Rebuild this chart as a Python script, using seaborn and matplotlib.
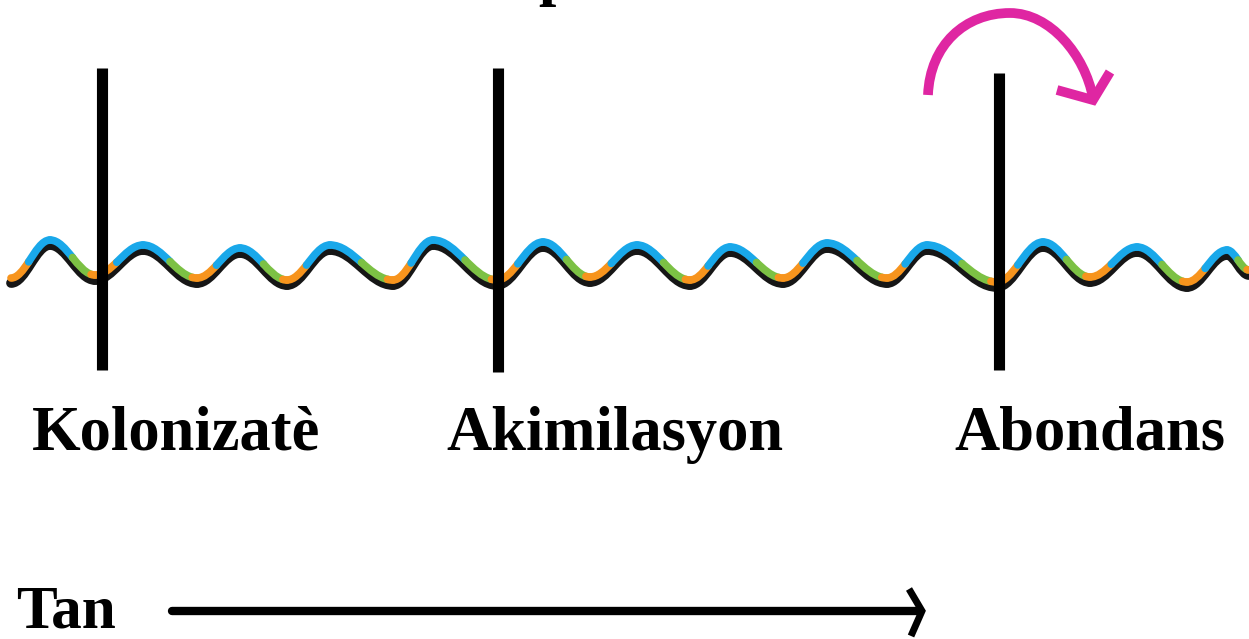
import numpy as np
import pandas as pd
import seaborn as sns
import matplotlib.pyplot as plt
from matplotlib.path import Path
from matplotlib.patches import PathPatch
from matplotlib.bezier import split_de_casteljau

# wave extrema (pixel-style coordinates, y grows downward)
wave_x = [11, 50, 95, 143, 197, 240, 287, 330, 393, 433, 497, 543, 590, 637,
          690, 730, 783, 827, 887, 927, 997, 1043, 1090, 1137, 1187, 1227, 1249]
wave_y = [283, 245, 280, 250, 283, 253, 285, 250, 285, 245, 285, 247, 282, 250,
          285, 252, 283, 248, 283, 250, 287, 247, 282, 252, 287, 255, 275]

# stage markers
stage_labels = ['Kolonizatè', 'Akimilasyon', 'Abondans']
stage_x = [102, 498, 999]
stage_top = [68, 68, 73]
stage_bottom = [370, 372, 370]
label_x = [176, 615, 1090]

# pink turning arrow: two cubic pieces (start, ctrl, ctrl, end)
arc_x = [928, 930, 965, 1010, 1050, 1085, 1093]
arc_y = [95, 45, 13, 13, 13, 55, 98]
head_x = [1057, 1093, 1110]
head_y = [90, 100, 72]

# time arrow
time_x = [172, 920]
time_y = [611, 611]
chev_x = [909, 922, 911]
chev_y = [589, 611, 636]

BLUE = '#19A8EA'
GREEN = '#7CC144'
ORANGE = '#F7941D'
BLACK = '#161616'
PINK = '#DF26A2'

sns.set_theme(style='white')
plt.rcParams['font.family'] = ['Liberation Serif', 'DejaVu Serif']

fig = plt.figure(figsize=(12.49, 6.39), dpi=100)
ax = fig.add_axes([0, 0, 1, 1])
ax.set_xlim(0, 1249)
ax.set_ylim(639, 0)
ax.axis('off')

CURVE = [Path.MOVETO, Path.CURVE4, Path.CURVE4, Path.CURVE4]


def ctrl_pts(p0, p1, dy=0):
    d = (p1[0] - p0[0]) * 0.37
    return np.array([[p0[0], p0[1] + dy], [p0[0] + d, p0[1] + dy],
                     [p1[0] - d, p1[1] + dy], [p1[0], p1[1] + dy]])


def part(ctrl, t0, t1):
    left, _ = split_de_casteljau(ctrl, t1)
    left = np.array(left)
    if t0 > 0:
        _, left = split_de_casteljau(left, t0 / t1)
        left = np.array(left)
    return left


def draw_curve(c, color, lw, cap='round'):
    ax.add_patch(PathPatch(Path(c, CURVE), fill=False, edgecolor=color,
                           lw=lw, capstyle=cap, joinstyle='round'))


pts = list(zip(wave_x, wave_y))
# black base wave
for a, b in zip(pts[:-1], pts[1:]):
    draw_curve(ctrl_pts(a, b), BLACK, 7)
# coloured overlay, shifted slightly up
for a, b in zip(pts[:-1], pts[1:]):
    c = ctrl_pts(a, b, dy=-5)
    if b[1] < a[1]:  # going up
        draw_curve(part(c, 0.0, 0.45), ORANGE, 5.5)
        draw_curve(part(c, 0.45, 1.0), BLUE, 5.5)
    else:  # going down
        draw_curve(part(c, 0.0, 0.5), BLUE, 5.5)
        draw_curve(part(c, 0.5, 0.92), GREEN, 5.5)
        draw_curve(part(c, 0.92, 1.0), ORANGE, 5.5)

# vertical stage lines
for xs, yt, yb in zip(stage_x, stage_top, stage_bottom):
    sns.lineplot(x=[xs, xs], y=[yt, yb], ax=ax, color='black', lw=8,
                 sort=False, estimator=None, solid_capstyle='butt')

for lx, name in zip(label_x, stage_labels):
    ax.text(lx, 450, name, ha='center', va='baseline', fontsize=45,
            fontweight='bold', color='black')

# pink arrow
arc = np.column_stack([arc_x, arc_y])
ax.add_patch(PathPatch(Path(arc, CURVE + CURVE[1:]), fill=False,
                       edgecolor=PINK, lw=7, capstyle='butt'))
sns.lineplot(x=head_x, y=head_y, ax=ax, color=PINK, lw=7, sort=False,
             estimator=None, solid_capstyle='butt', solid_joinstyle='miter')

# time arrow
sns.lineplot(x=time_x, y=time_y, ax=ax, color='black', lw=6, sort=False,
             estimator=None, solid_capstyle='round')
sns.lineplot(x=chev_x, y=chev_y, ax=ax, color='black', lw=5, sort=False,
             estimator=None, solid_capstyle='butt', solid_joinstyle='miter')
ax.text(16, 628, 'Tan', ha='left', va='baseline', fontsize=44,
        fontweight='bold', color='black')

# cropped title fragment at the very top
ax.text(556, -7, 'p', ha='center', va='baseline', fontsize=45,
        fontweight='bold', color='black')

ax.set_xlim(0, 1249)
ax.set_ylim(639, 0)
fig.savefig('out.png', dpi=100, facecolor='white')
